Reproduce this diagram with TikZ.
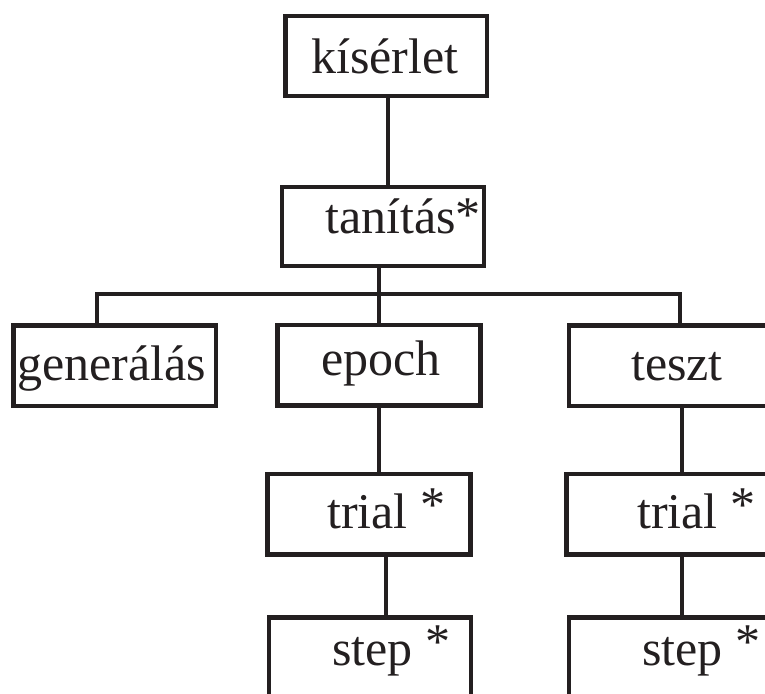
\documentclass[tikz,border=0pt]{standalone}
\usepackage{fontspec}
\setmainfont{Liberation Serif}
\definecolor{ink}{RGB}{35,31,32}
\begin{document}
\begin{tikzpicture}[x=1pt,y=-1pt,
  box/.style={draw=ink, line width=4.5pt, inner sep=0pt},
  conn/.style={draw=ink, line width=4.5pt},
  txt/.style={anchor=base west, inner sep=0pt, text=ink, font=\fontsize{50}{60}\selectfont}]
\useasboundingbox (0,0) rectangle (765,693);
\clip (0,0) rectangle (765,693);
% boxes
\node[box, minimum width=201.5pt, minimum height=80pt] (kis) at (386.2,56) {};
\node[box, minimum width=202pt, minimum height=79pt] (tan) at (383,226.5) {};
\node[box, minimum width=202.7pt, minimum height=80.7pt] (gen) at (114.7,365.7) {};
\node[box, minimum width=203pt, minimum height=80.7pt] (epo) at (379.2,365.3) {};
\node[box, minimum width=214pt, minimum height=80.5pt] (tes) at (676,365.8) {};
\node[box, minimum width=203pt, minimum height=80.3pt] (tr1) at (369.2,514.2) {};
\node[box, minimum width=202pt, minimum height=80pt] (st1) at (370,657.3) {};
\node[box, minimum width=222pt, minimum height=80.3pt] (tr2) at (677.7,514.3) {};
\node[box, minimum width=220pt, minimum height=80pt] (st2) at (679,657.3) {};
% texts
\node[txt] (kist) at (311,74) {kísérlet};
\node[txt] (tant) at (325,233) {tanítás\raisebox{2pt}{*}};
\node[txt] (gent) at (17,380) {generálás};
\node[txt] (epot) at (321,375) {epoch};
\node[txt] (test) at (631,380) {teszt};
\node[txt] (tr1t) at (327,528) {trial \raisebox{7pt}{*}};
\node[txt] (st1t) at (332,665) {step \raisebox{7pt}{*}};
\node[txt] (tr2t) at (637,528) {trial \raisebox{7pt}{*}};
\node[txt] (st2t) at (642,665) {step \raisebox{7pt}{*}};
% connector coordinates
\coordinate (xk) at (388,0);
\coordinate (barL) at (97,294);
\coordinate (barM) at (379,294);
\coordinate (barR) at (680,294);
\coordinate (xs1) at (386,0);
\coordinate (xr) at (682,0);
% connectors
\draw[conn] (kis.south -| xk) -- (tan.north -| xk);
\draw[conn] (tan.south -| barM) -- (barM);
\draw[conn] (gen.north -| barL) -- (barL) -- (barR) -- (tes.north -| barR);
\draw[conn] (barM) -- (epo.north -| barM);
\draw[conn] (epo.south -| barM) -- (tr1.north -| barM);
\draw[conn] (tr1.south -| xs1) -- (st1.north -| xs1);
\draw[conn] (tes.south -| xr) -- (tr2.north -| xr);
\draw[conn] (tr2.south -| xr) -- (st2.north -| xr);
\end{tikzpicture}
\end{document}
